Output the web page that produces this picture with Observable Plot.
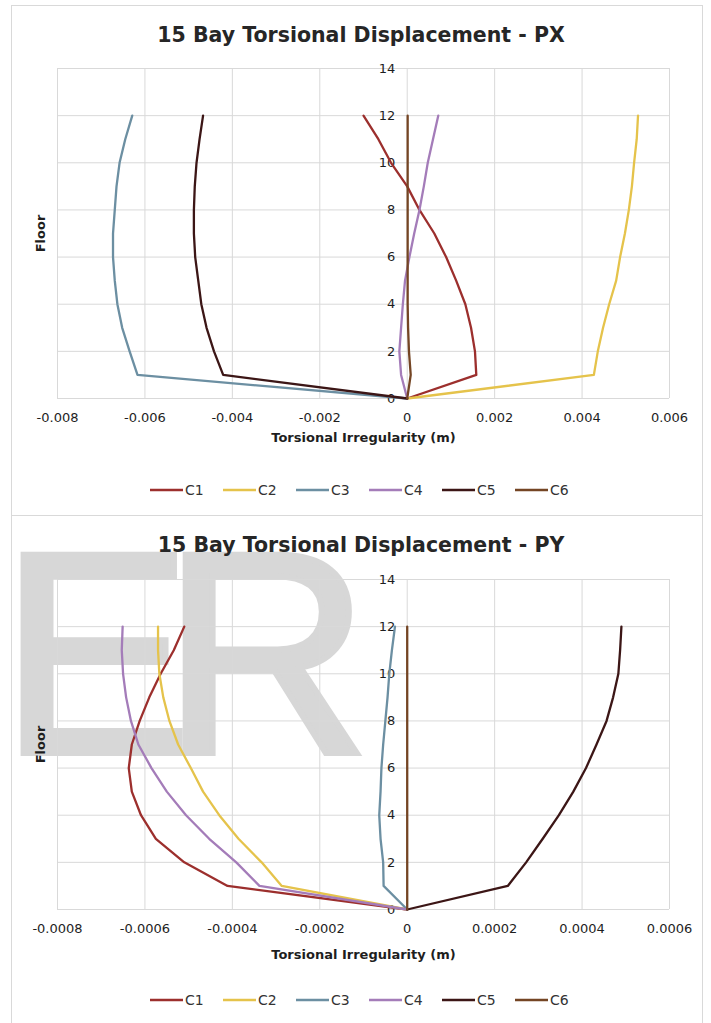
<!DOCTYPE html>
<html><head><meta charset="utf-8">
<script src="https://cdn.jsdelivr.net/npm/d3@7"></script>
<script src="https://cdn.jsdelivr.net/npm/@observablehq/plot@0.6"></script>
<style>
html,body{margin:0;padding:0;background:#fff;}
body{width:711px;height:1023px;overflow:hidden;position:relative;font-family:"DejaVu Sans",sans-serif;}
.panel{position:absolute;left:11px;width:692px;border:1px solid #d9d9d9;box-sizing:border-box;background:#fff;}
.title{position:absolute;left:0;width:722px;text-align:center;font-weight:bold;font-size:20.5px;line-height:24px;color:#262626;}
.chart{position:absolute;left:0;}
.legend{position:absolute;left:150px;}
svg [aria-label="x-axis label"] text, svg [aria-label="y-axis label"] text{font-weight:bold;}
#wm{position:absolute;left:0;top:0;pointer-events:none;}
</style>
</head><body>
<div class="panel" style="top:5px;height:511px"></div>
<div class="panel" style="top:515px;height:520px"></div>
<svg id="wm" width="711" height="1023"><g opacity="0.5"><text x="0" y="753" font-family="Liberation Sans" font-size="288" letter-spacing="-30" fill="#b0b0b0" stroke="#b0b0b0" stroke-width="6">ER</text></g></svg>
<div class="title" id="t1" style="top:23px"></div>
<div class="title" id="t2" style="top:533px"></div>
<div class="chart" id="c1" style="top:40px"></div>
<div class="chart" id="c2" style="top:551px"></div>
<div class="legend" id="l1" style="top:480px"></div>
<div class="legend" id="l2" style="top:990px"></div>
<script>
const seriesNames = ["C1","C2","C3","C4","C5","C6"];
const seriesColors = ["#9c2f2d","#e5c34b","#6c8fa2","#a47cb9","#3c1616","#744524"];
const floors = [0,1,2,3,4,5,6,7,8,9,10,11,12];
const yTicks = [0,2,4,6,8,10,12,14];

// PX chart
const titlePX = "15 Bay Torsional Displacement - PX";
const xTicksPX = [-0.008,-0.006,-0.004,-0.002,0,0.002,0.004,0.006];
const px_C1 = [0,0.00158,0.00155,0.00146,0.00133,0.00112,0.00089,0.00062,0.00028,0.0,-0.00037,-0.00066,-0.001];
const px_C2 = [0,0.00427,0.00436,0.00448,0.00462,0.00478,0.00487,0.00498,0.00507,0.00514,0.00519,0.00525,0.00528];
const px_C3 = [0,-0.00617,-0.00635,-0.00652,-0.00663,-0.00669,-0.00673,-0.00673,-0.00669,-0.00665,-0.00658,-0.00645,-0.00629];
const px_C4 = [0,-0.00014,-0.00018,-0.00014,-0.0001,-0.00005,0.00005,0.00016,0.00028,0.00038,0.00047,0.00059,0.00071];
const px_C5 = [0,-0.00421,-0.00442,-0.00459,-0.00471,-0.00478,-0.00485,-0.00488,-0.00488,-0.00486,-0.00482,-0.00475,-0.00467];
const px_C6 = [0,0.00008,0.00004,0.00002,0.00001,0.00001,0.00001,0.00001,0.00001,0.00001,0.00001,0.00001,0.00001];

// PY chart
const titlePY = "15 Bay Torsional Displacement - PY";
const xTicksPY = [-0.0008,-0.0006,-0.0004,-0.0002,0,0.0002,0.0004,0.0006];
const py_C1 = [0,-0.000411,-0.00051,-0.000575,-0.000609,-0.00063,-0.000637,-0.00063,-0.000612,-0.00059,-0.000564,-0.000534,-0.00051];
const py_C2 = [0,-0.000287,-0.000333,-0.000386,-0.00043,-0.000467,-0.000495,-0.000524,-0.000544,-0.000558,-0.000567,-0.00057,-0.00057];
const py_C3 = [0,-0.000054,-0.000055,-0.000061,-0.000064,-0.000061,-0.000059,-0.000055,-0.00005,-0.000045,-0.000041,-0.000035,-0.000028];
const py_C4 = [0,-0.000338,-0.000391,-0.000453,-0.000506,-0.00055,-0.000585,-0.000615,-0.000632,-0.000643,-0.00065,-0.000653,-0.000651];
const py_C5 = [0,0.00023,0.000272,0.00031,0.000347,0.00038,0.000409,0.000433,0.000456,0.000471,0.000483,0.000487,0.00049];
const py_C6 = [0,0,0,0,0,0,0,0,0,0,0,0,0];

const axisTitle = "Torsional Irregularity (m)";
const yTitle = "Floor";

function rowsOf(seriesArrays){
  const rows = [];
  seriesNames.forEach((s,i)=>{
    floors.forEach((f,j)=>rows.push({series:s, floor:f, value:seriesArrays[i][j]}));
  });
  return rows;
}

function makeChart(el, xTicks, seriesArrays, labelOffset){
  const rows = rowsOf(seriesArrays);
  const chart = Plot.plot({
    width: 711, height: 420,
    marginLeft: 57, marginRight: 42, marginTop: 28, marginBottom: 62,
    x: {domain: [xTicks[0], xTicks[xTicks.length-1]]},
    y: {domain: [0, 14]},
    color: {domain: seriesNames, range: seriesColors},
    style: {fontFamily: '"DejaVu Sans", sans-serif', fontSize: "13px", color: "#1e1e1e", background: "transparent"},
    marks: [
      Plot.gridX(xTicks, {stroke: "#d9d9d9", strokeOpacity: 1}),
      Plot.gridY(yTicks, {stroke: "#d9d9d9", strokeOpacity: 1}),
      Plot.axisX(xTicks, {tickSize: 0, tickPadding: 14, tickFormat: d => String(d), label: axisTitle, labelAnchor: "center", labelArrow: "none", labelOffset: labelOffset}),
      Plot.axisY({tickSize: 0, ticks: [], label: yTitle, labelAnchor: "center", labelArrow: "none", labelOffset: 22}),
      Plot.text(yTicks, {x: 0, y: d => d, text: d => String(d), textAnchor: "end", dx: -12, fill: "#1e1e1e"}),
      Plot.line(rows, {x: "value", y: "floor", z: "series", stroke: "series", strokeWidth: 2.3, strokeLinejoin: "round"})
    ]
  });
  document.getElementById(el).appendChild(chart);
}

function makeLegend(el){
  const step = 73;
  const svg = d3.select("#" + el).append("svg")
    .attr("width", step * seriesNames.length).attr("height", 22)
    .style("font-family", '"DejaVu Sans", sans-serif').style("font-size", "14px");
  const g = svg.selectAll("g").data(seriesNames).join("g")
    .attr("transform", (d, i) => `translate(${i * step},0)`);
  g.append("line").attr("x1", 0).attr("x2", 33).attr("y1", 10).attr("y2", 10)
    .attr("stroke", (d, i) => seriesColors[i]).attr("stroke-width", 2.5);
  g.append("text").attr("x", 35).attr("y", 15).attr("fill", "#333").text(d => d);
}

document.getElementById("t1").textContent = titlePX;
document.getElementById("t2").textContent = titlePY;
makeChart("c1", xTicksPX, [px_C1,px_C2,px_C3,px_C4,px_C5,px_C6], 43);
makeChart("c2", xTicksPY, [py_C1,py_C2,py_C3,py_C4,py_C5,py_C6], 49);
makeLegend("l1");
makeLegend("l2");
</script>
</body></html>
